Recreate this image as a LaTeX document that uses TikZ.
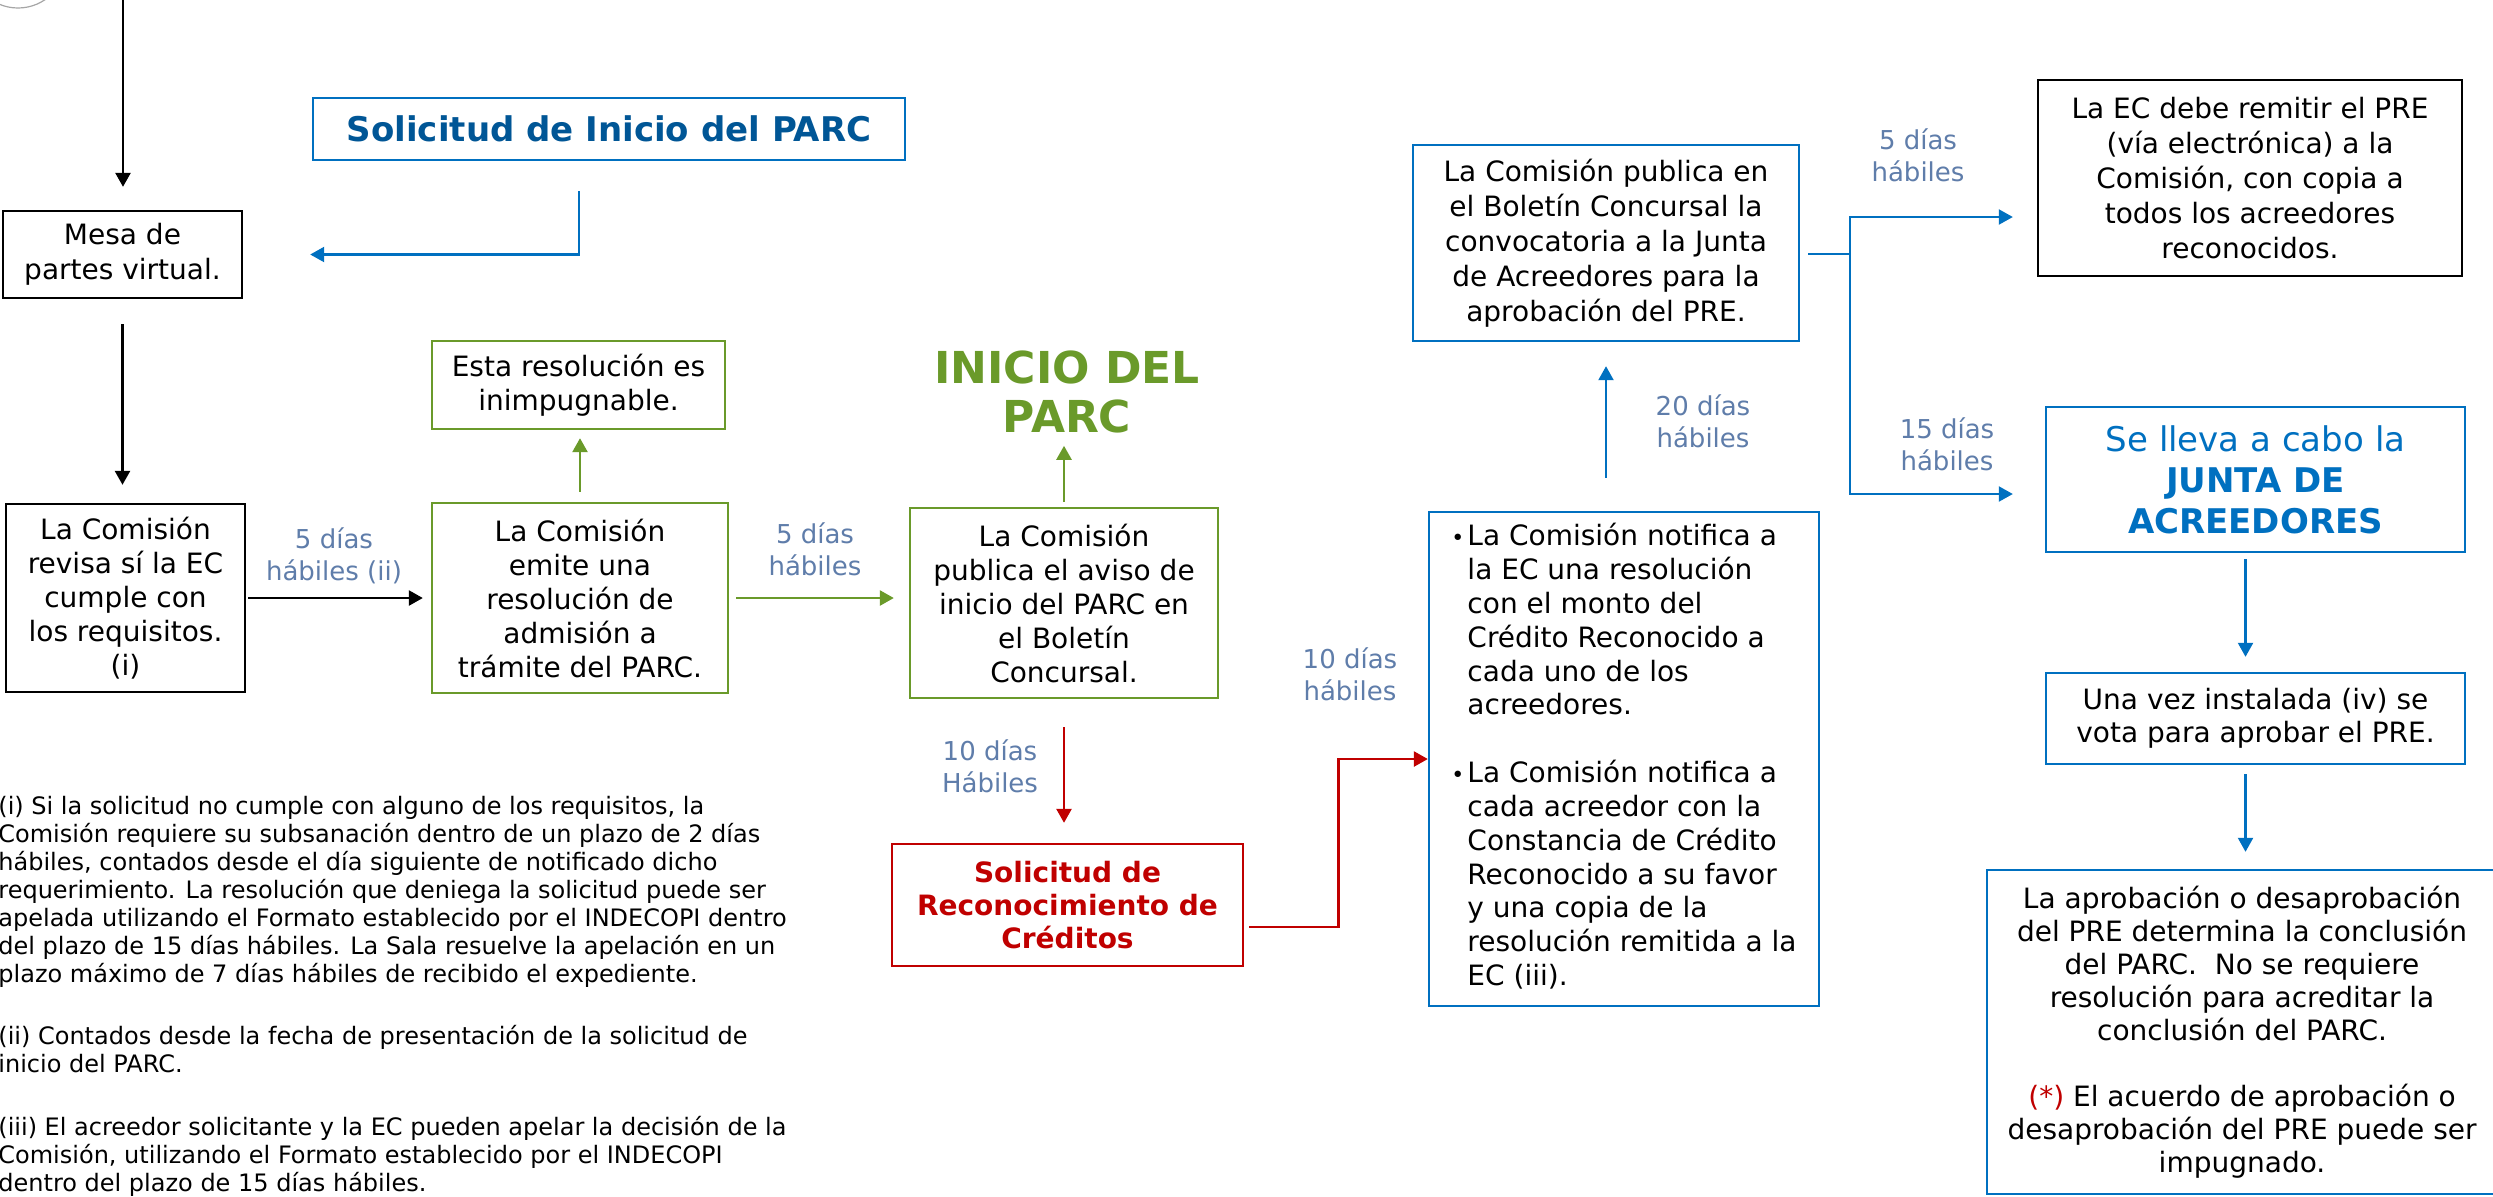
\documentclass[tikz,border=0pt]{standalone}
\usepackage{fontspec}
\setmainfont{DejaVu Sans}
\usetikzlibrary{arrows.meta,calc}
\definecolor{cblue}{HTML}{0070C0}
\definecolor{ctitle}{HTML}{005696}
\definecolor{cgreen}{HTML}{6A9A2A}
\definecolor{cred}{HTML}{C00000}
\definecolor{clabel}{HTML}{5F7DAA}
\begin{document}
\begin{tikzpicture}[x=0.5pt,y=-0.5pt,
  box/.style={draw, line width=1.2pt, inner sep=0pt, align=center, text=black, font=\fontsize{14}{17}\selectfont},
  kbox/.style={box, draw=black},
  gbox/.style={box, draw=cgreen},
  bbox/.style={box, draw=cblue},
  lab/.style={inner sep=0pt, align=center, text=clabel, font=\fontsize{13}{16}\selectfont},
  note/.style={inner sep=0pt, align=left, anchor=north west, text=black, font=\fontsize{12}{14}\selectfont},
  arr/.style={line width=1.3pt, -{Triangle[length=7pt,width=7.5pt]}},
  karr/.style={arr, draw=black},
  garr/.style={arr, draw=cgreen},
  rarr/.style={arr, draw=cred},
  barr/.style={arr, draw=cblue, line width=1.1pt},
  bline/.style={draw=cblue, line width=1.1pt},
]
\useasboundingbox (0,0) rectangle (2493,1196);
\fill[white] (0,0) rectangle (2493,1196);

% partial circle at top left
\node[circle, draw=gray!70, line width=0.6pt, minimum size=48pt, inner sep=0pt] (logo) at (18,-40) {};

% boxes
\node[bbox, minimum width=296pt, minimum height=31pt, text=ctitle, font=\fontsize{17}{20}\selectfont\bfseries] (sol) at (609,129) {Solicitud de Inicio del PARC};
\node[kbox, minimum width=119.5pt, minimum height=43.5pt, font=\fontsize{14}{17.5}\selectfont] (mesa) at (122.5,254.5) {Mesa de\\partes virtual.};
\node[kbox, minimum width=119.5pt, minimum height=94pt] (rev) at (125.5,598) {La Comisión\\revisa sí la EC\\cumple con\\los requisitos.\\(i)};
\node[gbox, minimum width=148pt, minimum height=95pt] (emite) at (580,598) {La Comisión\\emite una\\resolución de\\admisión a\\trámite del PARC.};
\node[gbox, minimum width=146.5pt, minimum height=44pt] (esta) at (578.5,385) {Esta resolución es\\inimpugnable.};
\node[gbox, minimum width=154pt, minimum height=95pt] (pub) at (1064,603) {La Comisión\\publica el aviso de\\inicio del PARC en\\el Boletín\\Concursal.};
\node[inner sep=0pt, align=center, text=cgreen, font=\fontsize{22}{24.5}\selectfont\bfseries] (inicio) at (1067,392) {INICIO DEL\\PARC};
\node[box, draw=cred, text=cred, minimum width=175.5pt, minimum height=61pt, font=\fontsize{14}{16.5}\selectfont\bfseries] (red) at (1067.5,905) {Solicitud de\\Reconocimiento de\\Créditos};
\node[bbox, minimum width=195pt, minimum height=247pt, font=\fontsize{14}{16.9}\selectfont] (bul) at (1624,759) {%
\begin{tabular}{@{}l@{}l@{}}
\makebox[8pt][l]{\fontsize{11}{11}\selectfont •}&La Comisión notifica a\\
&la EC una resolución\\
&con el monto del\\
&Crédito Reconocido a\\
&cada uno de los\\
&acreedores.\\[17pt]
\makebox[8pt][l]{\fontsize{11}{11}\selectfont •}&La Comisión notifica a\\
&cada acreedor con la\\
&Constancia de Crédito\\
&Reconocido a su favor\\
&y una copia de la\\
&resolución remitida a la\\
&EC (iii).
\end{tabular}};
\node[bbox, minimum width=193pt, minimum height=98pt, font=\fontsize{14}{17.5}\selectfont] (conv) at (1606,243) {La Comisión publica en\\el Boletín Concursal la\\convocatoria a la Junta\\de Acreedores para la\\aprobación del PRE.};
\node[kbox, minimum width=212pt, minimum height=98pt, font=\fontsize{14}{17.5}\selectfont] (laec) at (2250,178) {La EC debe remitir el PRE\\(vía electrónica) a la\\Comisión, con copia a\\todos los acreedores\\reconocidos.};
\node[bbox, minimum width=209.5pt, minimum height=72.5pt, text=cblue, font=\fontsize{17}{20.5}\selectfont] (junta) at (2255.5,479.5) {Se lleva a cabo la\\\textbf{JUNTA DE}\\\textbf{ACREEDORES}};
\node[bbox, minimum width=209.5pt, minimum height=45.5pt, font=\fontsize{14}{16.5}\selectfont] (una) at (2255.5,718.5) {Una vez instalada (iv) se\\vota para aprobar el PRE.};
\node[bbox, minimum width=255pt, minimum height=162pt, font=\fontsize{14}{16.5}\selectfont] (fin) at (2242,1032) {La aprobación o desaprobación\\del PRE determina la conclusión\\del PARC.\ \ No se requiere\\resolución para acreditar la\\conclusión del PARC.\\[16.5pt]\textcolor{cred}{(*)} El acuerdo de aprobación o\\desaprobación del PRE puede ser\\impugnado.};

% labels
\node[lab] (l1) at (334,556) {5 días\\hábiles (ii)};
\node[lab] (l2) at (815,549) {5 días\\hábiles};
\node[lab] (l3) at (990,766) {10 días\\Hábiles};
\node[lab] (l4) at (1350,674) {10 días\\hábiles};
\node[lab] (l5) at (1703,421) {20 días\\hábiles};
\node[lab] (l6) at (1918,155) {5 días\\hábiles};
\node[lab] (l7) at (1947,444) {15 días\\hábiles};

% footnotes
\node[note] (n1) at (-2,796) {(i) Si la solicitud no cumple con alguno de los requisitos, la\\Comisión requiere su subsanación dentro de un plazo de 2 días\\hábiles, contados desde el día siguiente de notificado dicho\\requerimiento. La resolución que deniega la solicitud puede ser\\apelada utilizando el Formato establecido por el INDECOPI dentro\\del plazo de 15 días hábiles. La Sala resuelve la apelación en un\\plazo máximo de 7 días hábiles de recibido el expediente.};
\node[note] (n2) at (-2,1025) {(ii) Contados desde la fecha de presentación de la solicitud de\\inicio del PARC.};
\node[note] (n3) at (-2,1116) {(iii) El acreedor solicitante y la EC pueden apelar la decisión de la\\Comisión, utilizando el Formato establecido por el INDECOPI\\dentro del plazo de 15 días hábiles.};

% connectors
\coordinate (top) at (123,-5);
\draw[karr, shorten >=11.5pt] (top) -- (top |- mesa.north);
\draw[karr, shorten <=12.5pt, shorten >=9pt] (mesa.south) -- (mesa.south |- rev.north);
\draw[karr, shorten <=1pt, shorten >=4pt] (rev.east) -- (rev.east -| emite.west);
\draw[garr, shorten <=5pt, shorten >=4pt] (emite.north) -- (emite.north |- esta.south);
\draw[garr, shorten <=3.5pt, shorten >=7.5pt] (emite.east) -- (emite.east -| pub.west);
\draw[garr, shorten <=2.5pt] (pub.north) -- ([yshift=30.5pt]pub.north);
\draw[rarr, shorten <=14pt, shorten >=10pt] (pub.south) -- (pub.south |- red.north);
\coordinate (rs) at ([xshift=2.5pt,yshift=-11pt]red.east);
\draw[rarr] (rs) -| ($(rs)!0.5!(bul.west)$) |- (bul.west);
\draw[barr, shorten <=16.5pt, shorten >=12pt] (conv.south |- bul.north) -- (conv.south);
\coordinate (split) at ([xshift=25pt,yshift=-5.5pt]conv.east);
\draw[bline, shorten <=4pt] (conv.east |- split) -- (split);
\draw[barr] (split) |- ([xshift=-12pt,yshift=-19.5pt]laec.west);
\draw[barr] (split) |- ([xshift=-16pt,yshift=-7.25pt]junta.west);
\draw[barr, shorten <=3pt, shorten >=7.5pt] ([xshift=-5pt]junta.south) -- ([xshift=-5pt]una.north);
\draw[barr, shorten <=4.5pt, shorten >=8.5pt] ([xshift=-5pt]una.south) -- ([xshift=-5pt]una.south |- fin.north);
\coordinate (sb) at ([xshift=-15pt,yshift=-15pt]sol.south);
\draw[barr] (sb) |- ([xshift=33.5pt]mesa.east);
\end{tikzpicture}
\end{document}
